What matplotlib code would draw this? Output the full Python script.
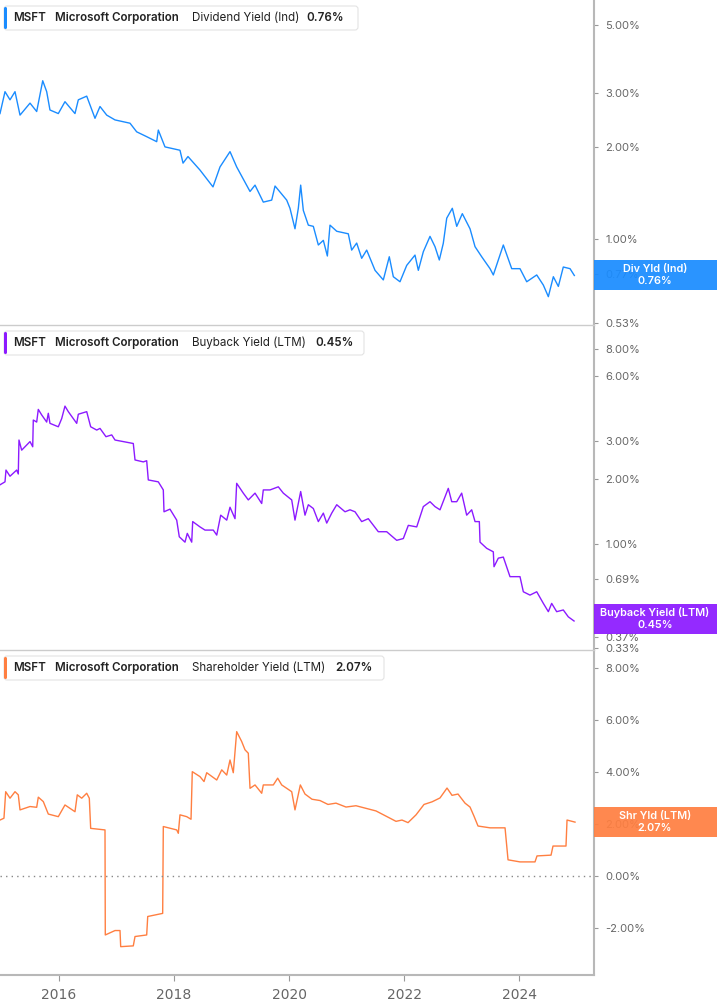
import matplotlib
matplotlib.use("Agg")
import matplotlib.pyplot as plt
from matplotlib.patches import Rectangle, FancyBboxPatch
from matplotlib.ticker import FixedLocator, FuncFormatter, NullLocator
from matplotlib.transforms import IdentityTransform

# ---------------- data (decimal years, percent) ----------------
div_t = [2014.974, 2015.061, 2015.148, 2015.235, 2015.322, 2015.496, 2015.612, 2015.717, 2015.786,
         2015.843, 2015.988, 2016.104, 2016.278, 2016.336, 2016.482, 2016.626, 2016.713, 2016.830,
         2016.974, 2017.235, 2017.351, 2017.525, 2017.699, 2017.727, 2017.843, 2018.104, 2018.157,
         2018.243, 2018.452, 2018.678, 2018.800, 2018.974, 2019.090, 2019.322, 2019.409, 2019.553,
         2019.699, 2019.757, 2019.960, 2020.017, 2020.104, 2020.162, 2020.203, 2020.249, 2020.336,
         2020.423, 2020.510, 2020.597, 2020.667, 2020.713, 2020.830, 2021.031, 2021.090, 2021.177,
         2021.264, 2021.351, 2021.496, 2021.640, 2021.744, 2021.814, 2021.930, 2022.047, 2022.191,
         2022.249, 2022.336, 2022.452, 2022.539, 2022.614, 2022.683, 2022.743, 2022.840, 2022.917,
         2023.014, 2023.148, 2023.235, 2023.351, 2023.496, 2023.553, 2023.640, 2023.727, 2023.873,
         2024.017, 2024.134, 2024.308, 2024.423, 2024.510, 2024.597, 2024.684, 2024.770, 2024.887,
         2024.962]
div_v = [2.57, 3.03, 2.85, 3.03, 2.54, 2.78, 2.61, 3.29, 3.03,
         2.64, 2.57, 2.81, 2.57, 2.85, 2.93, 2.48, 2.71, 2.54,
         2.45, 2.39, 2.24, 2.16, 2.08, 2.27, 2.00, 1.95, 1.77,
         1.86, 1.68, 1.48, 1.72, 1.93, 1.72, 1.43, 1.50, 1.32,
         1.34, 1.49, 1.34, 1.26, 1.08, 1.26, 1.50, 1.24, 1.11,
         1.10, 0.956, 0.99, 0.88, 1.11, 1.06, 1.04, 0.92, 0.97,
         0.865, 0.92, 0.79, 0.735, 0.875, 0.753, 0.725, 0.82, 0.886,
         0.79, 0.909, 1.02, 0.944, 0.854, 0.968, 1.17, 1.26, 1.10,
         1.21, 1.08, 0.944, 0.875, 0.80, 0.763, 0.854, 0.956, 0.80,
         0.80, 0.725, 0.763, 0.707, 0.648, 0.753, 0.70, 0.81, 0.80,
         0.76]

bb_t = [2014.974, 2015.061, 2015.078, 2015.148, 2015.264, 2015.292, 2015.304, 2015.351, 2015.496,
        2015.543, 2015.553, 2015.612, 2015.640, 2015.699, 2015.786, 2015.814, 2015.843, 2015.988,
        2016.047, 2016.104, 2016.162, 2016.308, 2016.336, 2016.482, 2016.551, 2016.656, 2016.713,
        2016.817, 2016.917, 2016.974, 2017.118, 2017.292, 2017.322, 2017.466, 2017.525, 2017.553,
        2017.727, 2017.814, 2017.826, 2017.930, 2018.047, 2018.092, 2018.191, 2018.231, 2018.308,
        2018.325, 2018.452, 2018.539, 2018.683, 2018.743, 2018.812, 2018.917, 2018.974, 2019.061,
        2019.090, 2019.205, 2019.292, 2019.409, 2019.525, 2019.553, 2019.670, 2019.814, 2019.901,
        2020.047, 2020.104, 2020.203, 2020.278, 2020.336, 2020.423, 2020.510, 2020.597, 2020.656,
        2020.743, 2020.830, 2020.974, 2021.061, 2021.148, 2021.264, 2021.379, 2021.553, 2021.699,
        2021.873, 2021.988, 2022.075, 2022.221, 2022.336, 2022.452, 2022.539, 2022.626, 2022.770,
        2022.830, 2022.917, 2023.003, 2023.090, 2023.177, 2023.235, 2023.310, 2023.322, 2023.438,
        2023.553, 2023.565, 2023.640, 2023.727, 2023.843, 2024.017, 2024.075, 2024.191, 2024.308,
        2024.423, 2024.510, 2024.568, 2024.655, 2024.770, 2024.857, 2024.957]
bb_v = [1.88, 1.94, 2.20, 2.06, 2.20, 2.11, 3.03, 2.72, 2.98,
        2.82, 3.75, 3.67, 4.20, 3.96, 3.67, 4.03, 3.62, 3.49,
        3.81, 4.35, 4.10, 3.62, 3.99, 4.10, 3.49, 3.37, 3.43,
        3.14, 3.20, 3.03, 2.98, 2.92, 2.45, 2.40, 2.43, 1.98,
        1.94, 1.78, 1.41, 1.45, 1.29, 1.08, 1.02, 1.12, 1.02,
        1.27, 1.20, 1.16, 1.16, 1.10, 1.36, 1.29, 1.48, 1.31,
        1.91, 1.72, 1.60, 1.72, 1.54, 1.78, 1.78, 1.84, 1.72,
        1.60, 1.29, 1.75, 1.36, 1.52, 1.46, 1.27, 1.39, 1.25,
        1.39, 1.52, 1.41, 1.44, 1.41, 1.27, 1.31, 1.14, 1.14,
        1.04, 1.06, 1.22, 1.20, 1.49, 1.57, 1.49, 1.44, 1.81,
        1.57, 1.57, 1.72, 1.36, 1.44, 1.27, 1.27, 1.02, 0.955,
        0.92, 0.785, 0.86, 0.87, 0.706, 0.706, 0.601, 0.58, 0.601,
        0.531, 0.486, 0.531, 0.486, 0.495, 0.46, 0.44]

sh_t = [2014.974, 2015.043, 2015.073, 2015.148, 2015.235, 2015.292, 2015.322, 2015.496, 2015.612,
        2015.640, 2015.727, 2015.814, 2015.988, 2016.104, 2016.278, 2016.318, 2016.395, 2016.482,
        2016.527, 2016.551, 2016.800, 2016.805, 2016.974, 2017.061, 2017.073, 2017.292, 2017.322,
        2017.525, 2017.543, 2017.803, 2017.814, 2018.047, 2018.075, 2018.104, 2018.221, 2018.296,
        2018.318, 2018.452, 2018.522, 2018.569, 2018.743, 2018.830, 2018.917, 2018.974, 2019.031,
        2019.090, 2019.177, 2019.235, 2019.292, 2019.322, 2019.409, 2019.525, 2019.553, 2019.727,
        2019.803, 2019.873, 2020.047, 2020.104, 2020.197, 2020.278, 2020.400, 2020.539, 2020.678,
        2020.817, 2020.991, 2021.165, 2021.339, 2021.513, 2021.687, 2021.861, 2021.965, 2022.070,
        2022.209, 2022.348, 2022.487, 2022.626, 2022.748, 2022.835, 2022.939, 2023.061, 2023.148,
        2023.217, 2023.287, 2023.496, 2023.757, 2023.809, 2024.017, 2024.278,
        2024.313, 2024.557, 2024.591, 2024.817, 2024.835, 2024.974]
sh_v = [2.15, 2.22, 3.24, 2.99, 3.24, 3.12, 2.54, 2.67, 2.64,
        3.03, 2.86, 2.38, 2.28, 2.73, 2.47, 3.12, 2.99, 3.18,
        2.99, 1.83, 1.77, -2.27, -2.10, -2.10, -2.72, -2.69, -2.33,
        -2.27, -1.56, -1.44, 1.90, 1.77, 1.64, 2.35, 2.28, 2.18,
        4.01, 3.82, 3.63, 3.97, 3.69, 4.08, 3.88, 4.46, 3.97,
        5.55, 5.17, 4.85, 4.72, 3.37, 3.50, 3.18, 3.50, 3.50,
        3.76, 3.50, 3.24, 2.54, 3.50, 3.15, 2.95, 2.90, 2.75,
        2.80, 2.65, 2.70, 2.60, 2.50, 2.30, 2.10, 2.15, 2.05,
        2.35, 2.75, 2.85, 3.00, 3.38, 3.10, 3.15, 2.80, 2.65,
        2.30, 1.92, 1.85, 1.85, 0.62, 0.54, 0.54,
        0.77, 0.80, 1.15, 1.15, 2.15, 2.07]

year_ticks = [2016, 2018, 2020, 2022, 2024]
div_ticks = [0.53, 0.77, 1.0, 2.0, 3.0, 5.0]
bb_ticks = [0.33, 0.37, 0.69, 1.0, 2.0, 3.0, 6.0, 8.0]
sh_ticks = [-2.0, 0.0, 2.0, 4.0, 6.0, 8.0]

ticker = "MSFT"
company = "Microsoft Corporation"
metrics = ["Dividend Yield (Ind)", "Buyback Yield (LTM)", "Shareholder Yield (LTM)"]
short_names = ["Div Yld (Ind)", "Buyback Yield (LTM)", "Shr Yld (LTM)"]
last_values = [0.76, 0.45, 2.07]

# ---------------- styling ----------------
W, H = 717, 1005
C_DIV, C_BB, C_SH = "#1a8cff", "#8c1aff", "#ff7f41"
SPINE = "#b8b8b8"
TXT = "#666666"
FONT = ["Inter", "DejaVu Sans"]
plt.rcParams["font.family"] = FONT

fig = plt.figure(figsize=(W / 100, H / 100), dpi=100)

def fy(y):
    return 1 - y / H

right = 594 / W
ax1 = fig.add_axes([0, fy(325), right, 325 / H])
ax2 = fig.add_axes([0, fy(650), right, 325 / H], sharex=ax1)
ax3 = fig.add_axes([0, fy(975), right, 325 / H], sharex=ax1)

ax1.plot(div_t, div_v, color=C_DIV, lw=1.0)
ax2.plot(bb_t, bb_v, color=C_BB, lw=1.0)
ax3.plot(sh_t, sh_v, color=C_SH, lw=1.0)
ax3.axhline(0, color="#888888", lw=1.0, ls=(0, (1, 3)))

ax1.set_yscale("log")
ax2.set_yscale("log")
ax1.set_ylim(0.5236, 6.04)
ax2.set_ylim(0.323, 10.33)
ax3.set_ylim(-3.81, 8.69)
ax1.set_xlim(2014.974, 2025.304)

pct = FuncFormatter(lambda v, p: f"{v:.2f}%")
for ax, tks in ((ax1, div_ticks), (ax2, bb_ticks), (ax3, sh_ticks)):
    ax.yaxis.set_major_locator(FixedLocator(tks))
    ax.yaxis.set_minor_locator(NullLocator())
    ax.yaxis.set_major_formatter(pct)
    ax.yaxis.tick_right()
    ax.tick_params(axis="y", which="both", left=False, right=True, labelleft=False,
                   labelright=True, length=3, width=0.8, color="#999999", pad=5,
                   labelsize=8, labelcolor=TXT)
    for s in ("left", "bottom", "top"):
        ax.spines[s].set_visible(False)
    ax.spines["right"].set_color(SPINE)
    ax.spines["right"].set_linewidth(1.5)
    ax.set_facecolor("none")

for ax in (ax2, ax3):
    ax.spines["top"].set_visible(True)
    ax.spines["top"].set_color("#cccccc")
    ax.spines["top"].set_linewidth(1.0)

ax3.spines["bottom"].set_visible(True)
ax3.spines["bottom"].set_color(SPINE)
ax3.spines["bottom"].set_linewidth(1.5)
ax3.xaxis.set_major_locator(FixedLocator(year_ticks))
ax3.xaxis.set_minor_locator(NullLocator())
ax3.xaxis.set_major_formatter(FuncFormatter(lambda v, p: f"{int(round(v))}"))
ax3.tick_params(axis="x", length=4, width=0.8, color="#999999", pad=5, labelsize=10,
                labelcolor=TXT)
for lab in ax3.get_xticklabels():
    lab.set_family(["Liberation Sans Narrow", "DejaVu Sans"])
for ax in (ax1, ax2):
    ax.tick_params(axis="x", bottom=False, labelbottom=False)

# ---------------- header legends ----------------
headers = [
    (6, 30, 358, 306, C_DIV),
    (331, 355, 364, 315, C_BB),
    (656, 680, 384, 335, C_SH),
]
FS = 8.35
for i, (top, bot, rx, vx, col) in enumerate(headers):
    y0 = H - bot
    box = FancyBboxPatch((4, y0), rx - 4, bot - top,
                         boxstyle="round,pad=0,rounding_size=3",
                         transform=IdentityTransform(), facecolor="white",
                         edgecolor="#e3e3e3", lw=0.8, zorder=5)
    fig.add_artist(box)
    bar = FancyBboxPatch((4, y0 + 1), 3, bot - top - 2,
                         boxstyle="round,pad=0,rounding_size=1.5",
                         transform=IdentityTransform(), facecolor=col,
                         edgecolor="none", zorder=6)
    fig.add_artist(bar)
    cy = fy((top + bot) / 2)
    fig.text(13 / W, cy, ticker, fontsize=FS, weight="semibold", color="#222222",
             va="center", ha="left", zorder=7)
    fig.text(55 / W, cy, company, fontsize=FS, weight="semibold", color="#222222",
             va="center", ha="left", zorder=7)
    fig.text(192 / W, cy, metrics[i], fontsize=FS, color="#222222",
             va="center", ha="left", zorder=7)
    fig.text(vx / W, cy, f"{last_values[i]:.2f}%", fontsize=FS, weight="semibold",
             color="#222222", va="center", ha="left", zorder=7)

# ---------------- right-side value boxes ----------------
for ax, col, name, val in ((ax1, C_DIV, short_names[0], last_values[0]),
                           (ax2, C_BB, short_names[1], last_values[1]),
                           (ax3, C_SH, short_names[2], last_values[2])):
    yd = ax.transData.transform((2025.0, val))[1]
    rect = Rectangle((594, yd - 15), W - 594, 30, transform=IdentityTransform(),
                     facecolor=col, edgecolor="none", alpha=0.93, zorder=8)
    fig.add_artist(rect)
    xc = 655 / W
    fig.text(xc, (yd + 6) / H, name, fontsize=7.8, weight="semibold", color="white",
             ha="center", va="center", zorder=9)
    fig.text(xc, (yd - 6) / H, f"{val:.2f}%", fontsize=7.8, weight="semibold",
             color="white", ha="center", va="center", zorder=9)

fig.savefig("out.png", dpi=100, facecolor="white")
